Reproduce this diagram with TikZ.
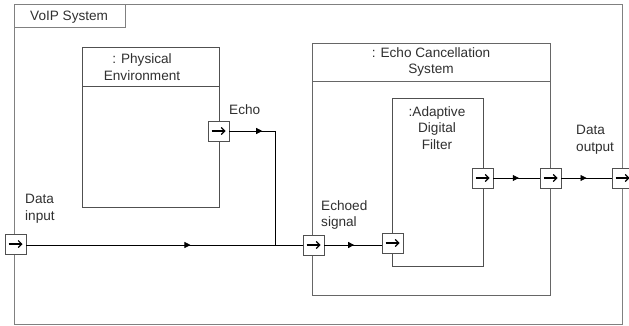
\documentclass[tikz,border=0pt]{standalone}
\usepackage{fontspec}
\setmainfont{Liberation Sans}
\usetikzlibrary{arrows.meta,decorations.markings}
\definecolor{frameg}{HTML}{808080}
\definecolor{boxg}{HTML}{505050}
\definecolor{txt}{HTML}{303030}
\tikzset{
  boxline/.style={draw=boxg, line width=0.9pt},
  portbox/.style={draw=boxg, fill=white, line width=0.8pt, minimum width=21pt, minimum height=20pt, inner sep=0pt,
    path picture={\draw[black, line width=1.1pt, -{Straight Barb[length=3.5pt,width=7pt]}]
      ([xshift=-7pt]path picture bounding box.center) -- ([xshift=7pt]path picture bounding box.center);}},
  flow/.style={draw=black, line width=0.7pt},
  midarrow/.style={postaction={decorate}, decoration={markings, mark=at position #1 with {\arrow{Triangle[length=6pt,width=6pt]}}}},
  lbl/.style={text=txt, font=\fontsize{13.6}{16.5}\selectfont, align=center, inner sep=0pt},
}
\begin{document}
\begin{tikzpicture}[x=1pt,y=-1pt]
\useasboundingbox (0,0) rectangle (629,326);
\fill[white] (0,0) rectangle (629,326);
% outer frame
\draw[draw=frameg, line width=1pt] (14,5) rectangle (622,324);
\draw[draw=frameg, line width=1pt] (14,5) rectangle (125,28);
\node[lbl, anchor=west] (voip) at (30,17) {VoIP System};
% physical environment
\draw[boxline] (82,47) rectangle (219,207);
\draw[boxline] (82,86) -- (219,86);
\node[lbl] (pe) at (142,67) {: Physical\\Environment};
% echo cancellation system
\draw[boxline, draw=frameg!80!black] (312,43) rectangle (550,295);
\draw[boxline, draw=frameg!80!black] (312,81) -- (550,81);
\node[lbl] (ecs) at (431,62) {: Echo Cancellation\\System};
% adaptive digital filter
\draw[boxline] (392,98) rectangle (483,266);
\node[lbl] (adf) at (437,128) {:Adaptive\\Digital\\Filter};
% ports
\node[portbox] (pin) at (15.5,244) {};
\node[portbox] (pecho) at (218.5,131) {};
\node[portbox] (pes) at (313.5,245) {};
\node[portbox] (pfin) at (392.5,243) {};
\node[portbox] (pfout) at (482.5,178) {};
\node[portbox] (pecsout) at (550.5,178) {};
\node[portbox] (pout) at (622.5,178) {};
\coordinate (j) at (275,245);
\coordinate (jtop) at (275,131);
% connectors
\draw[flow, midarrow=0.66] (pin.east |- j) -- (j);
\draw[flow] (j) -- (pes.west);
\draw[flow, midarrow=0.72] (pecho.east) -- (jtop);
\draw[flow] (jtop) -- (j);
\draw[flow, midarrow=0.52] (pes.east) -- (pfin.west |- pes.east);
\draw[flow, midarrow=0.55] (pfout.east) -- (pecsout.west);
\draw[flow, midarrow=0.5] (pecsout.east) -- (pout.west);
% labels
\node[lbl, align=left, anchor=north west] (lin) at (25,194) {Data\\input};
\node[lbl, anchor=west] (lecho) at (229,110) {Echo};
\node[lbl, align=left, anchor=north west] (les) at (321,200) {Echoed\\signal};
\node[lbl, align=left, anchor=north west] (lout) at (576,125) {Data\\output};
\end{tikzpicture}
\end{document}
